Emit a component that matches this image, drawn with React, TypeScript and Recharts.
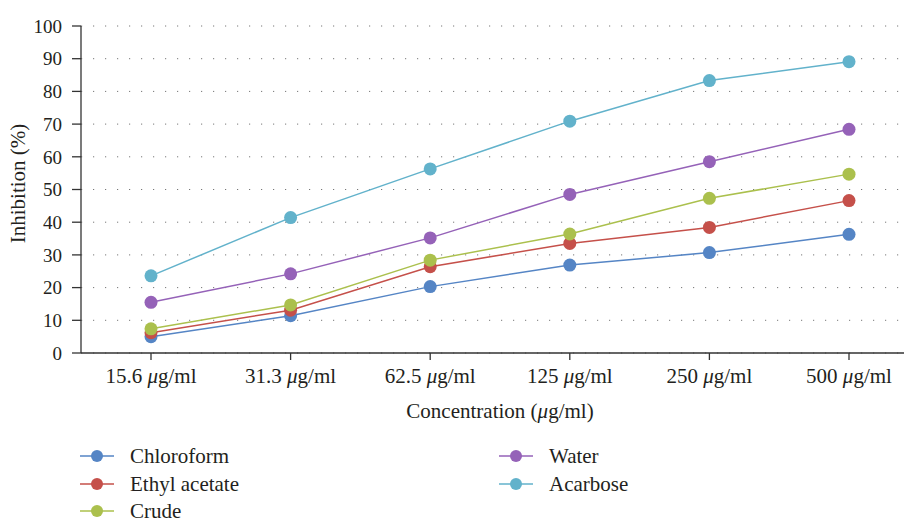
import React from "react";
import { CartesianGrid, Line, LineChart, XAxis, YAxis } from "recharts";

const concentrations = ["15.6", "31.3", "62.5", "125", "250", "500"];
const chloroform = [5.0, 11.4, 20.3, 26.9, 30.7, 36.3];
const ethylAcetate = [6.2, 13.1, 26.4, 33.5, 38.4, 46.6];
const crude = [7.4, 14.7, 28.4, 36.4, 47.3, 54.7];
const water = [15.5, 24.2, 35.2, 48.5, 58.5, 68.4];
const acarbose = [23.6, 41.4, 56.3, 70.9, 83.3, 89.1];
const yTicks = [0, 10, 20, 30, 40, 50, 60, 70, 80, 90, 100];

const series = [
  { key: "chloroform", name: "Chloroform", color: "#5585c5", values: chloroform },
  { key: "ethylAcetate", name: "Ethyl acetate", color: "#c5504a", values: ethylAcetate },
  { key: "crude", name: "Crude", color: "#abc04d", values: crude },
  { key: "water", name: "Water", color: "#9562b8", values: water },
  { key: "acarbose", name: "Acarbose", color: "#62b2cb", values: acarbose }
];

const data = concentrations.map((c, i) => {
  const row: Record<string, string | number> = { name: c };
  series.forEach((s) => {
    row[s.key] = s.values[i];
  });
  return row;
});

const FONT = '"Liberation Serif", "Times New Roman", serif';
const INK = "#231f20";

function ConcTick({ x, y, payload }: any) {
  return (
    <text x={x} y={y + 21} textAnchor="middle" fontFamily={FONT} fontSize={21} fill={INK}>
      {payload.value}{" "}
      <tspan fontStyle="italic">μ</tspan>g/ml
    </text>
  );
}

// legend: two columns, filled column by column
const legendCols = [80, 499];
const legendRows = [456, 484, 511];

function Legend() {
  return (
    <svg width={904} height={522} style={{ position: "absolute", left: 0, top: 0, pointerEvents: "none" }}>
      {series.map((s, i) => {
        const x = legendCols[i < 3 ? 0 : 1];
        const y = legendRows[i < 3 ? i : i - 3];
        return (
          <g key={s.key}>
            <line x1={x} y1={y} x2={x + 34} y2={y} stroke={s.color} strokeWidth={1.5} />
            <circle cx={x + 17} cy={y} r={6} fill={s.color} />
            <text x={x + 50} y={y + 6.5} fontFamily={FONT} fontSize={21} fill={INK}>
              {s.name}
            </text>
          </g>
        );
      })}
    </svg>
  );
}

export default function App() {
  return (
    <div
      style={{
        width: 904,
        height: 522,
        overflow: "hidden",
        position: "relative",
        background: "#fff",
        fontFamily: FONT
      }}
    >
      <style>{"html,body{margin:0;padding:0;overflow:hidden;}"}</style>
      <LineChart width={920} height={440} data={data} margin={{ top: 26, right: 1, bottom: 0, left: 0 }}>
        <CartesianGrid vertical={false} stroke="#777" strokeDasharray="1.2 10.8" />
        <XAxis
          dataKey="name"
          height={87}
          padding={{ left: 70, right: 70 }}
          tick={<ConcTick />}
          tickSize={7}
          axisLine={{ stroke: "#333", strokeWidth: 1.3 }}
          tickLine={{ stroke: "#333", strokeWidth: 1.3 }}
          label={{
            content: ({ viewBox }: any) => (
              <text
                x={viewBox.x + viewBox.width / 2}
                y={viewBox.y + 65}
                textAnchor="middle"
                fontFamily={FONT}
                fontSize={21}
                fill={INK}
              >
                Concentration (<tspan fontStyle="italic">μ</tspan>g/ml)
              </text>
            )
          }}
        />
        <YAxis
          width={81}
          domain={[0, 100]}
          ticks={yTicks}
          interval={0}
          tickSize={9}
          tickMargin={10}
          axisLine={{ stroke: "#333", strokeWidth: 1.3 }}
          tickLine={{ stroke: "#333", strokeWidth: 1.3 }}
          tick={{ fontFamily: FONT, fontSize: 19, fill: INK }}
          label={{
            content: ({ viewBox }: any) => {
              const cy = viewBox.y + viewBox.height / 2 - 6;
              return (
                <text
                  x={20}
                  y={cy}
                  transform={`rotate(-90 20 ${cy})`}
                  textAnchor="middle"
                  dominantBaseline="middle"
                  fontFamily={FONT}
                  fontSize={21}
                  fill={INK}
                >
                  Inhibition (%)
                </text>
              );
            }
          }}
        />
        {series.map((s) => (
          <Line
            key={s.key}
            dataKey={s.key}
            name={s.name}
            type="linear"
            stroke={s.color}
            strokeWidth={1.5}
            dot={{ r: 6.5, fill: s.color, stroke: s.color, strokeWidth: 0 }}
            activeDot={false}
            isAnimationActive={false}
          />
        ))}
      </LineChart>
      <Legend />
    </div>
  );
}
